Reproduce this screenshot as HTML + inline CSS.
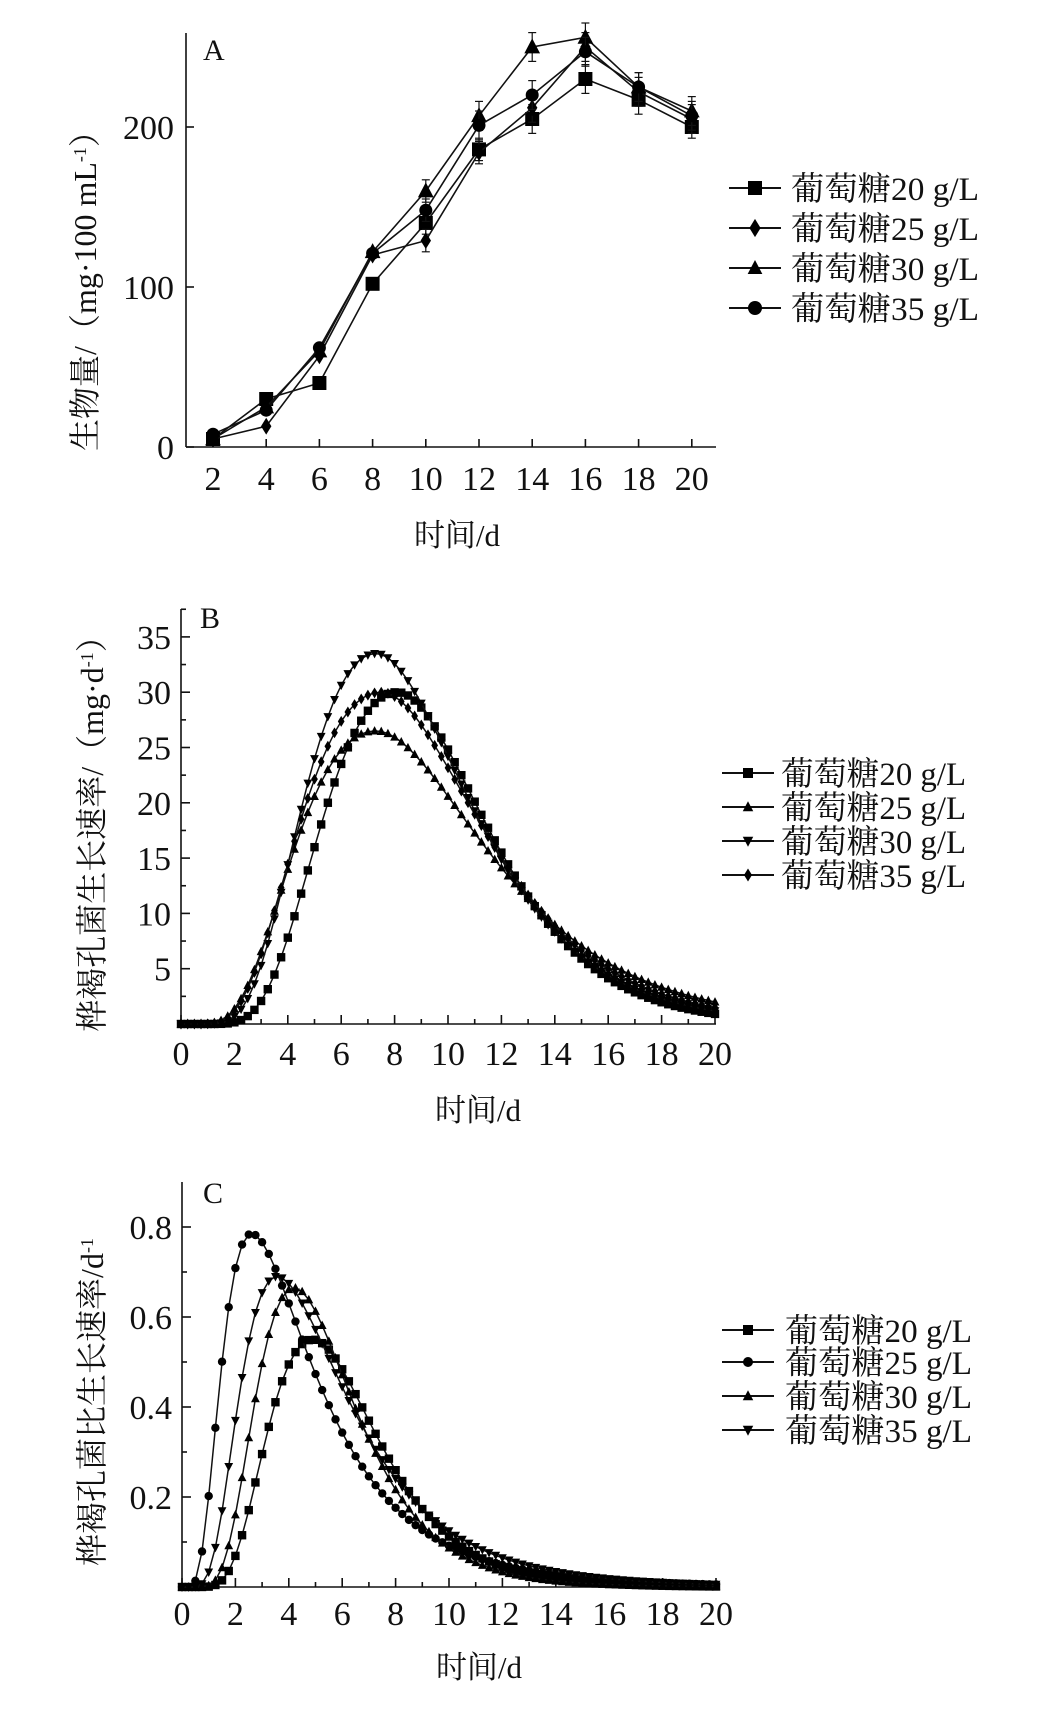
<!DOCTYPE html>
<html><head><meta charset="utf-8">
<style>
html,body{margin:0;padding:0;background:#fff;}
svg{display:block;}
text{font-family:"Liberation Serif","Noto Serif CJK SC",serif;fill:#111;}
</style></head>
<body>
<svg id="s" xmlns="http://www.w3.org/2000/svg" width="1063" height="1713" viewBox="0 0 1063 1713"></svg>
<script>
const S=document.getElementById('s');let out='';
function mk(type,x,y,r){
 if(type==='sq')return `<rect x="${x-r}" y="${y-r}" width="${2*r}" height="${2*r}" fill="#000"/>`;
 if(type==='ci')return `<circle cx="${x}" cy="${y}" r="${r}" fill="#000"/>`;
 if(type==='tu')return `<polygon points="${x},${y-r*1.15} ${x-r*1.05},${y+r*0.85} ${x+r*1.05},${y+r*0.85}" fill="#000"/>`;
 if(type==='td')return `<polygon points="${x},${y+r*1.15} ${x-r*1.05},${y-r*0.85} ${x+r*1.05},${y-r*0.85}" fill="#000"/>`;
 if(type==='di')return `<polygon points="${x},${y-r*1.3} ${x-r*0.8},${y} ${x},${y+r*1.3} ${x+r*0.8},${y}" fill="#000"/>`;
}
function line(x1,y1,x2,y2,w){return `<line x1="${x1}" y1="${y1}" x2="${x2}" y2="${y2}" stroke="#111" stroke-width="${w||1.6}"/>`;}
function txt(x,y,s,size,anchor,extra){return `<text x="${x}" y="${y}" font-size="${size}" text-anchor="${anchor||'start'}" ${extra||''}>${s}</text>`;}
function legend(x1,x2,tx,rows,types,r,tw){
 const labs=['20','25','30','35'];
 rows.forEach((y,i)=>{out+=line(x1,y,x2,y,2)+mk(types[i],(x1+x2)/2,y,r);
 out+=txt(tx,y+12,'葡萄糖'+labs[i]+' g/L',33,'start',`textLength="${tw}" lengthAdjust="spacingAndGlyphs"`);});
}
// ---------- Chart A ----------
(function(){
 const ax=186,top=33,y0=447,xr=716;
 const X=t=>213+(t-2)*26.6, Y=v=>y0-v*1.6;
 out+=line(ax,top,ax,y0)+line(ax,y0,xr,y0);
 for(let t=2;t<=20;t+=2){out+=line(X(t),y0,X(t),y0-8);out+=txt(X(t),490,t,34,'middle');}
 [0,100,200].forEach(v=>{out+=line(ax,Y(v),ax+8,Y(v));out+=txt(ax-12,Y(v)+12,v,34,'end');});
 out+=txt(203,60,'A',30);
 out+=txt(0,0,'生物量/（mg·100 mL<tspan font-size="18" dy="-10">-1</tspan><tspan dy="10">）</tspan>',32,'middle','transform="translate(96,283) rotate(-90)"');
 out+=txt(457,546,'时间/d',31,'middle');
 const ts=[2,4,6,8,10,12,14,16,18,20];
 const D={sq:[5,30,40,102,140,186,205,230,217,200],di:[5,13,57,120,129,184,212,250,222,205],tu:[5,25,60,122,160,207,250,256,225,210],ci:[8,23,62,121,148,201,220,247,225,207]};
 const sizes={sq:7,di:6.5,tu:7.5,ci:6.5};
 for(const k in D){
  const p=D[k].map((v,i)=>`${X(ts[i])},${Y(v)}`).join(' ');
  out+=`<polyline points="${p}" fill="none" stroke="#111" stroke-width="1.6"/>`;
  D[k].forEach((v,i)=>{ if(ts[i]>=10){const e=v>200?9:7;out+=line(X(ts[i]),Y(v+e),X(ts[i]),Y(v-e),1.2)+line(X(ts[i])-4,Y(v+e),X(ts[i])+4,Y(v+e),1.2)+line(X(ts[i])-4,Y(v-e),X(ts[i])+4,Y(v-e),1.2);}
   out+=mk(k,X(ts[i]),Y(v),sizes[k]);});
 }
 legend(729,781,791,[188,228,268,308],['sq','di','tu','ci'],7,188);
})();
function lognorm(t,A,tp,sL,sR){if(t<=0)return 0;const l=Math.log(t/tp);const s=l<0?sL:sR;return A*Math.exp(-0.5*(l/s)*(l/s));}
// ---------- Chart B ----------
(function(){
 const ax=181,top=609,y0=1024,xr=716;
 const X=t=>181+t*26.7, Y=v=>y0-v*11.06;
 out+=line(ax,top,ax,y0)+line(ax,y0,xr,y0);
 for(let t=0;t<=20;t++){out+=line(X(t),y0,X(t),y0-(t%2?5:9));if(t%2===0)out+=txt(X(t),1065,t,34,'middle');}
 for(let v=2.5;v<=37.5;v+=2.5){out+=line(ax,Y(v),ax+(v%5?5:9),Y(v));if(v%5===0)out+=txt(ax-10,Y(v)+12,v,34,'end');}
 out+=txt(200,628,'B',30);
 out+=txt(0,0,'桦褐孔菌生长速率/（mg·d<tspan font-size="18" dy="-10">-1</tspan><tspan dy="10">）</tspan>',32,'middle','transform="translate(103,826) rotate(-90)"');
 out+=txt(478,1121,'时间/d',31,'middle');
 const C=[['sq',30,8.1,0.43,0.342],['tu',26.5,7.3,0.532,0.443],['td',33.5,7.3,0.463,0.39],['di',30,7.5,0.52,0.40]];
 C.forEach(c=>{let pts=[],m='';for(let i=0;i<=80;i++){const t=i*0.25;const v=lognorm(t,c[1],c[2],c[3],c[4]);pts.push(`${X(t).toFixed(1)},${Y(v).toFixed(1)}`);m+=mk(c[0],X(t),Y(v),4.2);}
  out+=`<polyline points="${pts.join(' ')}" fill="none" stroke="#111" stroke-width="1.5"/>`+m;});
 legend(722,774,781,[773,807,841,875],['sq','tu','td','di'],5,185);
})();
// ---------- Chart C ----------
(function(){
 const ax=182,top=1182,y0=1587,xr=716;
 const X=t=>182+t*26.7, Y=v=>y0-v*450;
 out+=line(ax,top,ax,y0)+line(ax,y0,xr,y0);
 for(let t=0;t<=20;t++){out+=line(X(t),y0,X(t),y0-(t%2?5:9));if(t%2===0)out+=txt(X(t),1625,t,34,'middle');}
 for(let k=1;k<=8;k++){const v=k/10;out+=line(ax,Y(v),ax+(k%2?5:9),Y(v));if(k%2===0)out+=txt(ax-10,Y(v)+12,v.toFixed(1),34,'end');}
 out+=txt(203,1203,'C',30);
 out+=txt(0,0,'桦褐孔菌比生长速率/d<tspan font-size="18" dy="-10">-1</tspan>',32,'middle','transform="translate(103,1402) rotate(-90)"');
 out+=txt(479,1678,'时间/d',31,'middle');
 const C=[['sq',0.55,4.9,0.44,0.40],['ci',0.785,2.6,0.58,0.65],['tu',0.665,4.2,0.44,0.43],['td',0.69,3.55,0.514,0.56]];
 C.forEach(c=>{let pts=[],m='';for(let i=0;i<=80;i++){const t=i*0.25;const v=lognorm(t,c[1],c[2],c[3],c[4]);pts.push(`${X(t).toFixed(1)},${Y(v).toFixed(1)}`);m+=mk(c[0],X(t),Y(v),4.2);}
  out+=`<polyline points="${pts.join(' ')}" fill="none" stroke="#111" stroke-width="1.5"/>`+m;});
 legend(722,774,785,[1330,1362,1396,1430],['sq','ci','tu','td'],5,187);
})();
S.innerHTML=out;
</script>
</body></html>
